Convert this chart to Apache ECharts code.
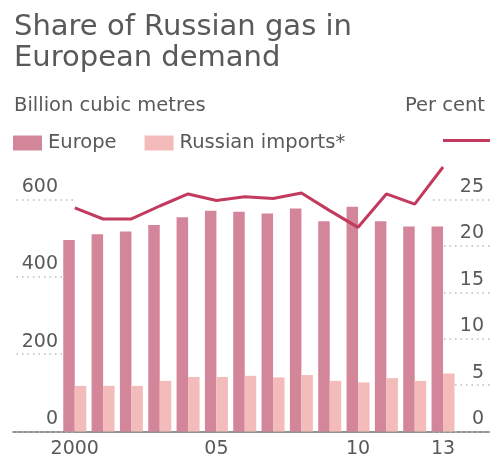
<!DOCTYPE html>
<html>
<head>
<meta charset="utf-8">
<script src="https://cdn.jsdelivr.net/npm/echarts@6/dist/echarts.min.js"></script>
<style>
  html, body { margin: 0; padding: 0; background: #ffffff; }
  #grafico { width: 490px; height: 459px; }
</style>
</head>
<body>
<div id="grafico"></div>
<script>
// datos
var years = ['2000','2001','2002','2003','2004','2005','2006','2007','2008','2009','2010','2011','2012','2013'];
var yearLabels = ['2000','','','','','05','','','','','10','','','13'];
var europe = [495, 510, 517, 534, 554, 571, 568, 564, 577, 544, 581, 544, 530, 530];
var russianImports = [118, 118, 118, 131, 141, 141, 144, 140, 146, 131, 127, 138, 131, 150];
var shareRussian = [24.1, 22.9, 22.9, 24.3, 25.6, 24.9, 25.3, 25.1, 25.7, 23.8, 22.0, 25.6, 24.5, 28.5];

var fuente = 'DejaVu Sans';
var gris = '#595959';
var colorEurope = '#d3869a';
var colorRussia = '#f4bbbb';
var colorLinea = '#c23b5e';

function generarGrafico(idDiv){
    var myChart = echarts.init(document.getElementById(idDiv), null, {renderer: 'canvas'});

    var ticksPunteados = {
      show: true,
      inside: false,
      lineStyle: { color: '#c2baac', width: 1.5, type: [1.5, 4] }
    };

    myChart.setOption({
      animation: false,
      backgroundColor: '#ffffff',
      title: [
        {
          text: 'Share of Russian gas in\nEuropean demand',
          left: 9, top: 7,
          textStyle: { fontFamily: fuente, fontSize: 29, fontWeight: 'normal', color: gris, lineHeight: 31 }
        },
        {
          text: 'Billion cubic metres',
          left: 9, top: 91,
          textStyle: { fontFamily: fuente, fontSize: 19.5, fontWeight: 'normal', color: gris }
        },
        {
          text: 'Per cent',
          right: 0, top: 91,
          textStyle: { fontFamily: fuente, fontSize: 19.5, fontWeight: 'normal', color: gris }
        }
      ],
      legend: [
        {
          left: 13, top: 133,
          padding: 0,
          itemWidth: 29, itemHeight: 15, itemGap: 28,
          icon: 'rect',
          data: ['Europe', 'Russian imports*'],
          textStyle: { fontFamily: fuente, fontSize: 19.5, color: gris, padding: [2, 0, 0, 1] }
        },
        {
          right: -5, top: 134,
          itemWidth: 47, itemHeight: 3,
          icon: 'rect',
          data: ['Share'],
          formatter: function(){ return ''; },
          textStyle: { fontSize: 1 }
        }
      ],
      grid: [
        { left: 60.6, right: 32.8, top: 199.5, bottom: 27.5 },
        { left: 13, right: 0, top: 199.5, bottom: 27.5 }
      ],
      xAxis: [
        {
          type: 'category',
          gridIndex: 0,
          data: years,
          axisLine: { show: false },
          axisTick: { show: false },
          axisLabel: {
            interval: 0,
            margin: 8,
            fontFamily: fuente, fontSize: 19, color: gris,
            formatter: function(value, index){ return yearLabels[index]; }
          }
        },
        {
          type: 'value',
          gridIndex: 1,
          axisLine: { show: true, onZero: false, lineStyle: { color: '#707070', width: 1.5 } },
          axisTick: { show: false },
          axisLabel: { show: false },
          splitLine: { show: false }
        }
      ],
      yAxis: [
        {
          type: 'value',
          gridIndex: 0,
          min: 0, max: 600, interval: 200,
          offset: -12.4,
          axisLine: { show: false },
          axisTick: Object.assign({ length: 60 }, ticksPunteados),
          splitLine: { show: false },
          axisLabel: {
            margin: 15, verticalAlign: 'bottom', padding: [0, 0, 3, 0],
            fontFamily: fuente, fontSize: 19, color: gris
          }
        },
        {
          type: 'value',
          gridIndex: 0,
          position: 'right',
          min: 0, max: 25, interval: 5,
          offset: -24.2,
          axisLine: { show: false },
          axisTick: Object.assign({ length: 57 }, ticksPunteados),
          splitLine: { show: false },
          axisLabel: {
            margin: 51, align: 'right', verticalAlign: 'bottom', padding: [0, 0, 3, 0],
            fontFamily: fuente, fontSize: 19, color: gris
          }
        },
        {
          type: 'value',
          gridIndex: 1,
          show: false
        }
      ],
      series: [
        {
          name: 'Europe',
          type: 'bar',
          xAxisIndex: 0, yAxisIndex: 0,
          barWidth: 11.5,
          barGap: '0%',
          itemStyle: { color: colorEurope },
          data: europe
        },
        {
          name: 'Russian imports*',
          type: 'bar',
          xAxisIndex: 0, yAxisIndex: 0,
          barWidth: 11.5,
          itemStyle: { color: colorRussia },
          data: russianImports
        },
        {
          name: 'Share',
          type: 'line',
          xAxisIndex: 0, yAxisIndex: 1,
          clip: false,
          symbol: 'none',
          z: 5,
          itemStyle: { color: colorLinea },
          lineStyle: { color: colorLinea, width: 3 },
          data: shareRussian
        }
      ]
    });
}

generarGrafico('grafico');
</script>
</body>
</html>
